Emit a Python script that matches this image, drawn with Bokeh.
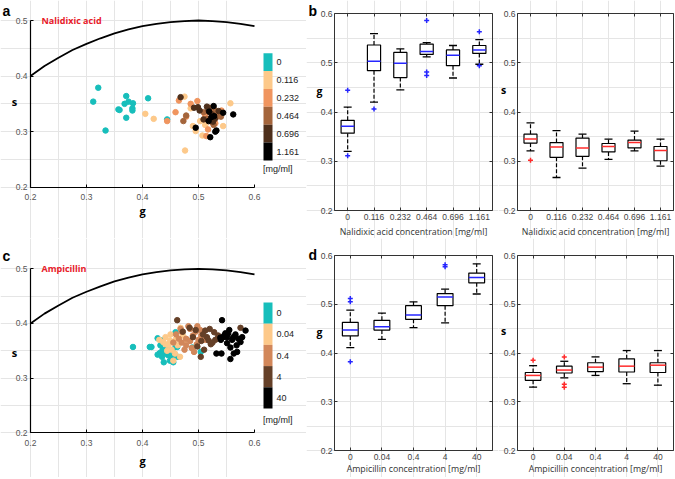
from bokeh.plotting import figure
from bokeh.models import Label, LinearAxis, FixedTicker, Range1d, ColumnDataSource
from bokeh.layouts import row, column
from bokeh.embed import file_html
from bokeh.resources import INLINE
from bokeh.core.properties import value

# ---------------- data ----------------
# boundary curve
curve_g = [0.200, 0.225, 0.250, 0.275, 0.300, 0.325, 0.350, 0.375, 0.400, 0.425, 0.450, 0.475, 0.500, 0.525, 0.550, 0.575, 0.600]
curve_s = [0.400, 0.418, 0.433, 0.447, 0.458, 0.468, 0.477, 0.484, 0.490, 0.494, 0.497, 0.499, 0.500, 0.499, 0.497, 0.494, 0.490]

# panel a : Nalidixic acid scatter
na_levels = ["0", "0.116", "0.232", "0.464", "0.696", "1.161"]
na_colors = ["#17BEBB", "#FDC98A", "#F0955F", "#A4653C", "#4E2F1B", "#000000"]
na_g = [
    [0.321, 0.334, 0.371, 0.375, 0.368, 0.383, 0.357, 0.359, 0.382, 0.382, 0.371, 0.410, 0.444, 0.312],
    [0.405, 0.420, 0.475, 0.476, 0.490, 0.495, 0.507, 0.503, 0.557, 0.544, 0.486, 0.520, 0.532, 0.512],
    [0.486, 0.498, 0.459, 0.444, 0.465, 0.517, 0.514, 0.521, 0.525, 0.530, 0.541, 0.512, 0.478],
    [0.478, 0.473, 0.509, 0.515, 0.529, 0.524, 0.536, 0.520, 0.527, 0.531, 0.518, 0.540],
    [0.468, 0.492, 0.499, 0.502, 0.509, 0.518, 0.529, 0.536, 0.524, 0.515, 0.526],
    [0.527, 0.562, 0.544, 0.532, 0.530, 0.521, 0.523, 0.518, 0.495, 0.519, 0.528],
]
na_s = [
    [0.379, 0.302, 0.364, 0.354, 0.350, 0.351, 0.340, 0.339, 0.342, 0.338, 0.325, 0.360, 0.322, 0.354],
    [0.332, 0.323, 0.363, 0.266, 0.310, 0.301, 0.293, 0.319, 0.351, 0.310, 0.342, 0.340, 0.330, 0.312],
    [0.350, 0.355, 0.335, 0.319, 0.356, 0.304, 0.292, 0.335, 0.332, 0.315, 0.338, 0.328, 0.327],
    [0.329, 0.319, 0.335, 0.323, 0.339, 0.317, 0.330, 0.343, 0.312, 0.325, 0.336, 0.327],
    [0.362, 0.343, 0.344, 0.338, 0.322, 0.339, 0.323, 0.337, 0.331, 0.345, 0.318],
    [0.346, 0.331, 0.334, 0.302, 0.300, 0.290, 0.326, 0.319, 0.307, 0.336, 0.328],
]

# panel c : Ampicillin scatter
amp_levels = ["0", "0.04", "0.4", "4", "40"]
amp_colors = ["#17BEBB", "#FDC98A", "#D2875A", "#654028", "#000000"]
amp_g = [
    [0.383, 0.413, 0.416, 0.427, 0.435, 0.432, 0.431, 0.427, 0.435, 0.438, 0.450, 0.456, 0.459, 0.455, 0.449,
     0.441, 0.444, 0.459, 0.462, 0.463, 0.489, 0.504, 0.446, 0.453, 0.436],
    [0.441, 0.449, 0.456, 0.468, 0.467, 0.455, 0.441, 0.430, 0.446, 0.460, 0.472, 0.452, 0.437, 0.463, 0.478,
     0.450, 0.444, 0.458],
    [0.460, 0.470, 0.478, 0.485, 0.490, 0.495, 0.500, 0.505, 0.478, 0.470, 0.488, 0.497, 0.482, 0.465, 0.475,
     0.492, 0.503, 0.512, 0.455, 0.485, 0.468, 0.498],
    [0.462, 0.484, 0.504, 0.512, 0.518, 0.575, 0.520, 0.528, 0.505, 0.498, 0.522, 0.515, 0.495, 0.530, 0.508,
     0.525, 0.490, 0.535, 0.472, 0.510],
    [0.542, 0.532, 0.541, 0.557, 0.563, 0.569, 0.584, 0.555, 0.548, 0.544, 0.551, 0.562, 0.571, 0.578, 0.557,
     0.568, 0.551, 0.539, 0.575, 0.560, 0.546, 0.553, 0.566, 0.540],
]
amp_s = [
    [0.357, 0.357, 0.357, 0.373, 0.369, 0.360, 0.346, 0.343, 0.339, 0.329, 0.351, 0.345, 0.357, 0.329, 0.332,
     0.345, 0.357, 0.384, 0.357, 0.339, 0.356, 0.348, 0.342, 0.337, 0.352],
    [0.375, 0.369, 0.366, 0.392, 0.339, 0.332, 0.362, 0.370, 0.360, 0.372, 0.378, 0.352, 0.366, 0.360, 0.370,
     0.380, 0.350, 0.345],
    [0.380, 0.385, 0.372, 0.390, 0.378, 0.385, 0.370, 0.378, 0.360, 0.365, 0.355, 0.362, 0.395, 0.372, 0.352,
     0.348, 0.388, 0.370, 0.365, 0.368, 0.390, 0.395],
    [0.406, 0.392, 0.339, 0.387, 0.369, 0.392, 0.390, 0.384, 0.368, 0.358, 0.362, 0.375, 0.388, 0.370, 0.380,
     0.365, 0.375, 0.378, 0.385, 0.352],
    [0.406, 0.345, 0.345, 0.335, 0.345, 0.348, 0.387, 0.388, 0.382, 0.375, 0.375, 0.375, 0.372, 0.375, 0.356,
     0.360, 0.364, 0.374, 0.366, 0.370, 0.378, 0.382, 0.380, 0.370],
]

# panel b : box plot statistics, Nalidixic acid
b_cats = ["0", "0.116", "0.232", "0.464", "0.696", "1.161"]
b_g_q1 = [0.357, 0.484, 0.470, 0.517, 0.494, 0.519]
b_g_med = [0.371, 0.503, 0.499, 0.523, 0.515, 0.526]
b_g_q3 = [0.383, 0.536, 0.521, 0.538, 0.526, 0.535]
b_g_lo = [0.320, 0.420, 0.445, 0.512, 0.469, 0.497]
b_g_hi = [0.410, 0.559, 0.528, 0.541, 0.535, 0.547]
b_g_out_cat = ["0", "0", "0.116", "0.464", "0.464", "0.464", "1.161", "1.161"]
b_g_out_val = [0.444, 0.311, 0.406, 0.586, 0.481, 0.474, 0.563, 0.494]

b_s_q1 = [0.337, 0.308, 0.310, 0.319, 0.327, 0.301]
b_s_med = [0.345, 0.329, 0.327, 0.330, 0.338, 0.322]
b_s_q3 = [0.355, 0.338, 0.347, 0.336, 0.343, 0.330]
b_s_lo = [0.321, 0.267, 0.286, 0.304, 0.321, 0.290]
b_s_hi = [0.378, 0.362, 0.355, 0.345, 0.361, 0.345]
b_s_out_cat = ["0"]
b_s_out_val = [0.302]

# panel d : box plot statistics, Ampicillin
d_cats = ["0", "0.04", "0.4", "4", "40"]
d_g_q1 = [0.435, 0.447, 0.469, 0.497, 0.544]
d_g_med = [0.447, 0.454, 0.478, 0.515, 0.555]
d_g_q3 = [0.463, 0.467, 0.497, 0.522, 0.564]
d_g_lo = [0.411, 0.428, 0.452, 0.462, 0.521]
d_g_hi = [0.488, 0.482, 0.505, 0.531, 0.583]
d_g_out_cat = ["0", "0", "0", "4", "4"]
d_g_out_val = [0.512, 0.505, 0.382, 0.581, 0.577]

d_s_q1 = [0.344, 0.359, 0.362, 0.361, 0.360]
d_s_med = [0.354, 0.365, 0.371, 0.373, 0.375]
d_s_q3 = [0.360, 0.373, 0.380, 0.388, 0.380]
d_s_lo = [0.330, 0.349, 0.354, 0.337, 0.334]
d_s_hi = [0.374, 0.383, 0.392, 0.405, 0.405]
d_s_out_cat = ["0", "0.04", "0.04", "0.04"]
d_s_out_val = [0.385, 0.392, 0.336, 0.330]

scatter_ticks_g = [0.2, 0.3, 0.4, 0.5, 0.6]
scatter_ticks_s = [0.2, 0.3, 0.4, 0.5]
box_ticks = [0.2, 0.3, 0.4, 0.5, 0.6]

# ---------------- styling helpers ----------------
TICK_FONT = "Liberation Sans"
LAB_FONT = "Open Sans"
BLUE = "#2626FF"
RED = "#FF2B2B"


def frame_fig(W, H, fl, fr, ft, fb, x0, x1, y0, y1):
    """Figure whose whole canvas is the frame; data box [x0,x1]x[y0,y1] sits at canvas px [fl,fr]x[ft,fb]."""
    kx = (fr - fl) / (x1 - x0)
    ky = (fb - ft) / (y1 - y0)
    p = figure(width=W, height=H, title=None, toolbar_location=None, output_backend="svg",
               x_range=Range1d(x0 - fl / kx, x1 + (W - fr) / kx),
               y_range=Range1d(y0 - (H - fb) / ky, y1 + ft / ky),
               x_axis_location=None, y_axis_location=None, min_border=0)
    p.outline_line_color = None
    p.background_fill_color = "white"
    p.border_fill_color = "white"

    def X(px):
        return x0 + (px - fl) / kx

    def Y(py):
        return y1 - (py - ft) / ky
    return p, X, Y


def style_axis(ax, color, lw, size, label_color, standoff):
    ax.major_tick_in = 3
    ax.major_tick_out = 0
    ax.minor_tick_line_color = None
    ax.axis_line_color = color
    ax.axis_line_width = lw
    ax.major_tick_line_color = color
    ax.major_label_text_font = TICK_FONT
    ax.major_label_text_font_size = size
    ax.major_label_text_color = label_color
    ax.major_label_standoff = standoff


def add_label(p, x, y, text, size, color="black", bold=False, font=LAB_FONT, align="center", baseline="middle"):
    p.add_layout(Label(x=x, y=y, text=text, text_font=font, text_font_size=size, text_color=color,
                       text_font_style="bold" if bold else "normal", text_align=align, text_baseline=baseline))


def scatter_panel(W, H, ft, fb, levels, colors, gs, ss, title, title_y, letter, letter_top,
                  cb_top, cb_bot, unit_y, s_y, g_y):
    p, X, Y = frame_fig(W, H, 30, 254, ft, fb, 0.2, 0.6, 0.2, 0.5)
    p.line(curve_g, curve_s, line_color="black", line_width=1.8)
    for g, s, c in zip(gs, ss, colors):
        p.scatter(g, s, size=5.5, fill_color=c, line_color=c, marker="circle")
    n = len(levels)
    step = (cb_bot - cb_top) / n
    tops = [Y(cb_top + i * step) for i in range(n)]
    bots = [Y(cb_top + (i + 1) * step) for i in range(n)]
    mids = [Y(cb_top + (i + 0.5) * step) for i in range(n)]
    p.quad(left=X(263), right=X(272), top=tops, bottom=bots, fill_color=colors, line_color=None)
    p.text(x=[X(276)] * n, y=mids, text=levels, text_font=value(TICK_FONT), text_font_size="9px",
           text_color="#222222", text_align="left", text_baseline="middle")
    p.text(x=[X(262.5)], y=[Y(unit_y)], text=["[mg/ml]"], text_font=value(TICK_FONT), text_font_size="9px",
           text_color="#222222", text_align="left", text_baseline="middle")
    xa = LinearAxis(fixed_location=0.2, bounds=(0.2, 0.6), ticker=FixedTicker(ticks=scatter_ticks_g))
    ya = LinearAxis(fixed_location=0.2, bounds=(0.2, 0.5), ticker=FixedTicker(ticks=scatter_ticks_s))
    style_axis(xa, "black", 1.2, "8.5px", "#555555", 7)
    style_axis(ya, "black", 1.2, "8.5px", "#555555", 3)
    p.add_layout(xa, "below")
    p.add_layout(ya, "left")
    add_label(p, X(41), Y(title_y), title, "9px", color="#E8202A", bold=True, align="left")
    add_label(p, X(14), Y(s_y), "s", "11px", bold=True)
    add_label(p, X(142), Y(g_y), "g", "11px", bold=True)
    add_label(p, X(2), Y(letter_top), letter, "14px", bold=True, font="Liberation Sans",
              align="left", baseline="top")
    return p


def box_panel(W, H, fl, fr, ft, fb, cats, q1, med, q3, lo, hi, out_cat, out_val, mcol, ylab, ylab_xy,
              xtitle, title_y, letter=None, letter_top=None):
    n = len(cats)
    p, X, Y = frame_fig(W, H, fl, fr, ft, fb, 0.5, n + 0.5, 0.2, 0.6)
    pos = [i + 1 for i in range(n)]
    opos = [cats.index(c) + 1 for c in out_cat]
    src = ColumnDataSource(dict(x=pos, xl=[v - 0.25 for v in pos], xr=[v + 0.25 for v in pos],
                                q1=q1, med=med, q3=q3, lo=lo, hi=hi))
    p.segment(x0="x", y0="q3", x1="x", y1="hi", source=src, line_color="black", line_width=1.2, line_dash="4 2")
    p.segment(x0="x", y0="q1", x1="x", y1="lo", source=src, line_color="black", line_width=1.2, line_dash="4 2")
    p.vbar(x="x", top="q3", bottom="q1", width=0.5, source=src, fill_color="white", line_color="black",
           line_width=1.2)
    p.scatter(x="x", y="hi", source=src, marker="dash", size=8, line_color="black", line_width=1.3)
    p.scatter(x="x", y="lo", source=src, marker="dash", size=8, line_color="black", line_width=1.3)
    p.segment(x0="xl", y0="med", x1="xr", y1="med", source=src, line_color=mcol, line_width=1.5)
    p.scatter(x=opos, y=out_val, marker="cross", size=5, line_color=mcol, line_width=1.5)

    left = LinearAxis(fixed_location=0.5, bounds=(0.2, 0.6), ticker=FixedTicker(ticks=box_ticks))
    right = LinearAxis(fixed_location=n + 0.5, bounds=(0.2, 0.6), ticker=FixedTicker(ticks=box_ticks))
    below = LinearAxis(fixed_location=0.2, bounds=(0.5, n + 0.5), ticker=FixedTicker(ticks=pos),
                       major_label_overrides={v: c for v, c in zip(pos, cats)})
    above = LinearAxis(fixed_location=0.6, bounds=(0.5, n + 0.5), ticker=FixedTicker(ticks=pos))
    style_axis(left, "#333333", 1, "8.5px", "#444444", 2)
    style_axis(below, "#333333", 1, "8.5px", "#444444", 3)
    style_axis(right, "#333333", 1, "8.5px", None, 2)
    style_axis(above, "#333333", 1, "8.5px", None, 2)
    p.add_layout(left, "left")
    p.add_layout(right, "right")
    p.add_layout(below, "below")
    p.add_layout(above, "above")
    add_label(p, X(ylab_xy[0]), Y(ylab_xy[1]), ylab, "10.5px", bold=True)
    add_label(p, X((fl + fr) / 2), Y(title_y), xtitle, "8.8px", color="#333333")
    if letter is not None:
        add_label(p, X(2), Y(letter_top), letter, "14px", bold=True, font="Liberation Sans",
                  align="left", baseline="top")
    return p


# ---------------- figures ----------------
figA = scatter_panel(306, 238, 20, 186.7, na_levels, na_colors, na_g, na_s, "Nalidixic acid", 20, "a", 2,
                     52.7, 160, 168, 101, 210)
figBL = box_panel(192, 238, 28, 186, 13, 210, b_cats, b_g_q1, b_g_med, b_g_q3, b_g_lo, b_g_hi,
                  b_g_out_cat, b_g_out_val, BLUE, "g", (13, 90), "Nalidixic acid concentration [mg/ml]", 231,
                  letter="b", letter_top=2)
figBR = box_panel(176, 238, 19, 175, 13, 210, b_cats, b_s_q1, b_s_med, b_s_q3, b_s_lo, b_s_hi,
                  b_s_out_cat, b_s_out_val, RED, "s", (5, 89), "Nalidixic acid concentration [mg/ml]", 231)

figC = scatter_panel(306, 239, 30.3, 194.3, amp_levels, amp_colors, amp_g, amp_s, "Ampicillin", 30, "c", 9,
                     64, 170, 181, 113.7, 222)
figDL = box_panel(192, 239, 28, 186, 17, 212, d_cats, d_g_q1, d_g_med, d_g_q3, d_g_lo, d_g_hi,
                  d_g_out_cat, d_g_out_val, BLUE, "g", (13, 93.7), "Ampicillin concentration [mg/ml]", 230,
                  letter="d", letter_top=8)
figDR = box_panel(176, 239, 19, 175, 17, 212, d_cats, d_s_q1, d_s_med, d_s_q3, d_s_lo, d_s_hi,
                  d_s_out_cat, d_s_out_val, RED, "s", (5, 92), "Ampicillin concentration [mg/ml]", 230)

layout = column(row(figA, figBL, figBR), row(figC, figDL, figDR))

open("out.html", "w").write(file_html(layout, INLINE))
